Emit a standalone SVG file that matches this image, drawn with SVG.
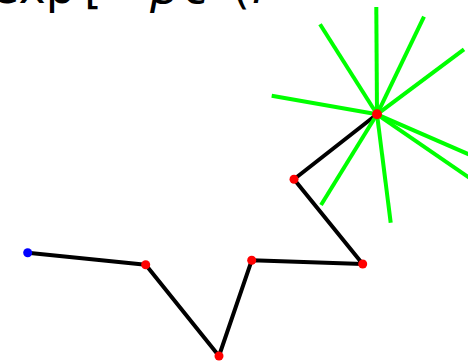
<svg xmlns="http://www.w3.org/2000/svg" width="468" height="362" viewBox="0 0 468 362">
<style>
.t{font-family:"DejaVu Sans",sans-serif;font-size:46px;fill:#000}
.i{font-style:italic}
.g{stroke:#00ff00;stroke-width:4;stroke-linecap:butt;fill:none}
.k{stroke:#000;stroke-width:4;fill:none;stroke-linejoin:round}
.r{fill:#ff0000}
.b{fill:#0000ff}
</style>
<rect width="468" height="362" fill="#fff"/>
<text class="t" x="-9" y="3">exp<tspan x="84">[</tspan><tspan x="108">−</tspan><tspan class="i" x="150">β</tspan><tspan class="i" x="184">ϵ</tspan><tspan x="232">(</tspan><tspan class="i" x="252">r</tspan></text>
<g id="connectors">
<polyline class="k" points="27.7,252.7 145.7,264.7 219,356 251.7,260.3 362.7,264 294,179.3 377,114.3"/>
<g id="trial-moves">
<line class="g" x1="377" y1="114.3" x2="376.3" y2="7"/>
<line class="g" x1="377" y1="114.3" x2="424" y2="16.7"/>
<line class="g" x1="377" y1="114.3" x2="464" y2="49.3"/>
<line class="g" x1="377" y1="114.3" x2="320" y2="24.3"/>
<line class="g" x1="377" y1="114.3" x2="271.7" y2="95.7"/>
<line class="g" x1="377" y1="114.3" x2="476" y2="157.5"/>
<line class="g" x1="377" y1="114.3" x2="474" y2="181"/>
<line class="g" x1="377" y1="114.3" x2="390.7" y2="222.7"/>
<line class="g" x1="377" y1="114.3" x2="321" y2="205"/>
</g>
</g>
<g id="n0"><circle class="b" cx="27.7" cy="252.7" r="4.5"/></g>
<g id="n1"><circle class="r" cx="145.7" cy="264.7" r="4.5"/></g>
<g id="n2"><circle class="r" cx="219" cy="356" r="4.5"/></g>
<g id="n3"><circle class="r" cx="251.7" cy="260.3" r="4.5"/></g>
<g id="n4"><circle class="r" cx="362.7" cy="264" r="4.5"/></g>
<g id="n5"><circle class="r" cx="294" cy="179.3" r="4.5"/></g>
<g id="n6"><circle class="r" cx="377" cy="114.3" r="5"/></g>
</svg>
